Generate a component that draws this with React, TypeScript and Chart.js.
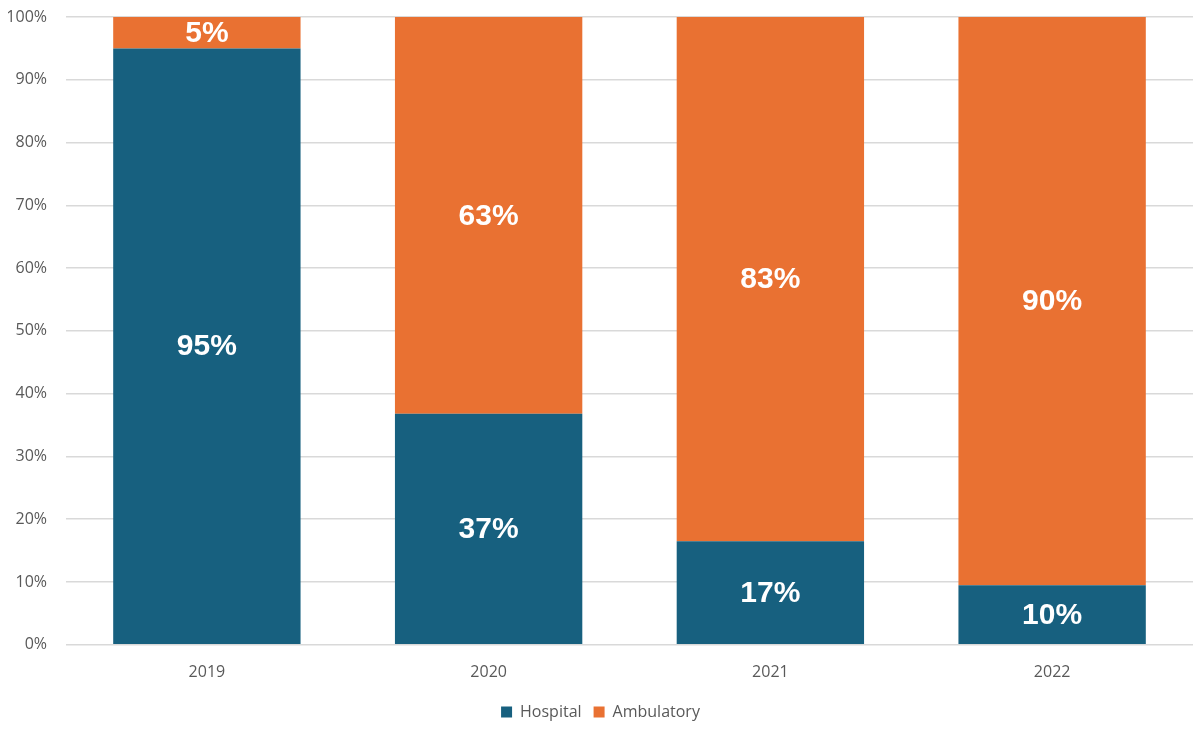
import { useEffect, useRef } from "react";
import { Chart, registerables } from "chart.js";

Chart.register(...registerables);

const years = ["2019", "2020", "2021", "2022"];
const hospital = [95, 36.8, 16.5, 9.5];
const ambulatory = [5, 63.2, 83.5, 90.5];
const hospitalLabels = ["95%", "37%", "17%", "10%"];
const ambulatoryLabels = ["5%", "63%", "83%", "90%"];

const barLabels = {
  id: "barLabels",
  afterDatasetsDraw(chart: any) {
    const ctx = chart.ctx;
    const texts = [hospitalLabels, ambulatoryLabels];
    ctx.save();
    ctx.fillStyle = "#ffffff";
    ctx.font = "bold 30px 'Liberation Sans', Arial, sans-serif";
    ctx.textAlign = "center";
    ctx.textBaseline = "middle";
    chart.data.datasets.forEach((_ds: any, i: number) => {
      const meta = chart.getDatasetMeta(i);
      meta.data.forEach((bar: any, j: number) => {
        const y = (bar.y + bar.base) / 2;
        ctx.fillText(texts[i][j], bar.x, y + 1);
      });
    });
    ctx.restore();
  },
};

export default function App() {
  const canvasRef = useRef<HTMLCanvasElement | null>(null);
  const chartRef = useRef<Chart | null>(null);

  useEffect(() => {
    document.body.style.margin = "0";
    const ctx = canvasRef.current?.getContext("2d");
    if (!ctx) return;
    const font = { family: "'Open Sans', 'Noto Sans', sans-serif", size: 16 };
    chartRef.current = new Chart(ctx, {
      type: "bar",
      data: {
        labels: years,
        datasets: [
          { label: "Hospital", data: hospital, backgroundColor: "#17607f", categoryPercentage: 1, barPercentage: 0.665 },
          { label: "Ambulatory", data: ambulatory, backgroundColor: "#e97132", categoryPercentage: 1, barPercentage: 0.665 },
        ],
      },
      options: {
        animation: false,
        responsive: true,
        maintainAspectRatio: false,
        layout: { padding: { top: 17, right: 7, left: 8, bottom: 0 } },
        plugins: {
          legend: {
            position: "bottom",
            labels: {
              boxWidth: 11,
              boxHeight: 11,
              color: "#595959",
              font,
              padding: 12,
            },
          },
          tooltip: { enabled: false },
        },
        scales: {
          x: {
            stacked: true,
            grid: { display: false },
            border: { display: false },
            ticks: { color: "#595959", font, padding: 10 },
          },
          y: {
            stacked: true,
            min: 0,
            max: 100,
            afterFit: (scale: any) => {
              scale.width = 58;
              scale.paddingTop = 0;
              scale.paddingBottom = 0;
            },
            grid: { color: "#d9d9d9", lineWidth: 1.5, drawTicks: false },
            border: { display: false },
            ticks: {
              stepSize: 10,
              color: "#595959",
              font,
              padding: 19,
              callback: (v: any) => v + "%",
            },
          },
        },
      },
      plugins: [barLabels],
    });
    return () => {
      chartRef.current?.destroy();
      chartRef.current = null;
    };
  }, []);

  return (
    <div style={{ width: 1200, height: 730, position: "relative", background: "#fff" }}>
      <canvas ref={canvasRef} />
    </div>
  );
}
